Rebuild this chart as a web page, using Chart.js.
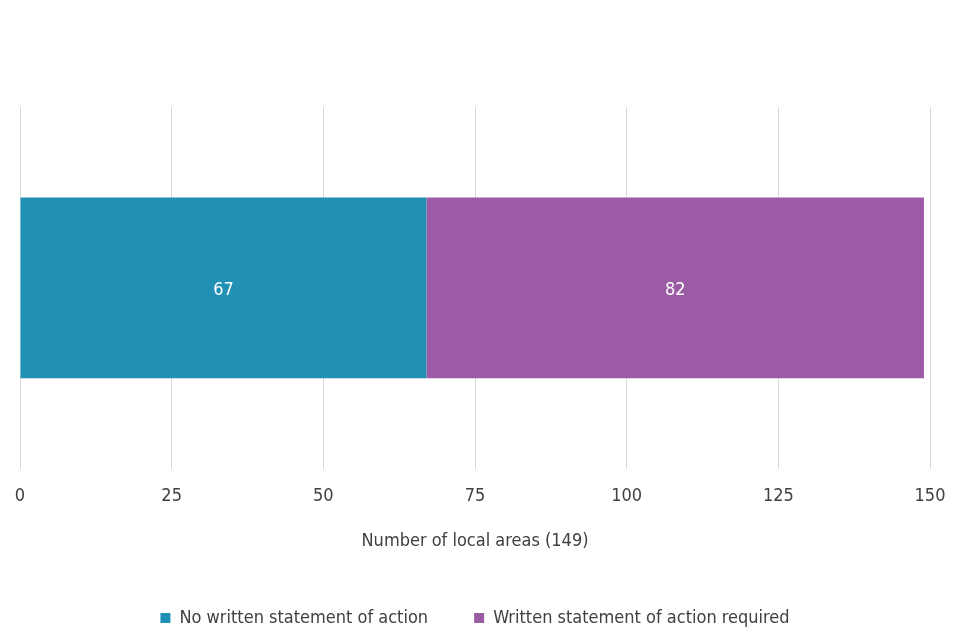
<!DOCTYPE html>
<html>
<head>
<meta charset="utf-8">
<script src="https://cdn.jsdelivr.net/npm/chart.js@4/dist/chart.umd.min.js"></script>
<style>
  html, body { margin: 0; padding: 0; background: #fff; }
  #wrap { width: 960px; height: 640px; position: relative; }
</style>
</head>
<body>
<div id="wrap"><canvas id="chart" width="960" height="640"></canvas></div>
<script>
(function () {
  'use strict';

  var categories = [''];
  var noStatement = [67];
  var statementRequired = [82];
  var seriesNames = ['No written statement of action', 'Written statement of action required'];
  var axisTitle = 'Number of local areas (149)';
  var xMax = 150;
  var xStep = 25;

  var FONT = "'DejaVu Sans Condensed', 'DejaVu Sans', sans-serif";
  var textColor = '#404040';
  var gridColor = '#d9d9d9';

  /* ── draw value labels in the middle of each bar ── */
  var barValues = {
    id: 'barValues',
    afterDatasetsDraw: function (chart) {
      var ctx = chart.ctx;
      ctx.save();
      ctx.font = '18px ' + FONT;
      ctx.fillStyle = '#ffffff';
      ctx.textAlign = 'center';
      ctx.textBaseline = 'middle';
      chart.data.datasets.forEach(function (ds, i) {
        chart.getDatasetMeta(i).data.forEach(function (bar, j) {
          var p = bar.getProps(['x', 'y', 'base'], true);
          ctx.fillText(String(ds.data[j]), (p.x + p.base) / 2, p.y + 2);
        });
      });
      ctx.restore();
    }
  };

  Chart.defaults.font.family = FONT;
  Chart.defaults.font.size = 18;
  Chart.defaults.color = textColor;

  new Chart(document.getElementById('chart'), {
    type: 'bar',
    data: {
      labels: categories,
      datasets: [
        {
          label: seriesNames[0],
          data: noStatement,
          backgroundColor: '#2091b5',
          barPercentage: 1,
          categoryPercentage: 0.5
        },
        {
          label: seriesNames[1],
          data: statementRequired,
          backgroundColor: '#9b5ba5',
          barPercentage: 1,
          categoryPercentage: 0.5
        }
      ]
    },
    options: {
      indexAxis: 'y',
      responsive: false,
      animation: false,
      layout: { padding: { top: 107, left: 20, right: 30, bottom: 3 } },
      plugins: {
        tooltip: { enabled: false },
        legend: {
          position: 'bottom',
          labels: {
            boxWidth: 10,
            boxHeight: 10,
            padding: 46,
            color: textColor,
            font: { size: 18 }
          }
        }
      },
      scales: {
        x: {
          stacked: true,
          min: 0,
          max: xMax,
          afterFit: function (scale) {
            scale.paddingLeft = 0;
            scale.paddingRight = 0;
          },
          ticks: { stepSize: xStep, padding: 17, color: textColor },
          grid: { color: gridColor, drawTicks: false },
          border: { display: false },
          title: {
            display: true,
            text: axisTitle,
            color: textColor,
            font: { size: 18 },
            padding: { top: 6, bottom: 11 }
          }
        },
        y: {
          stacked: true,
          display: false
        }
      }
    },
    plugins: [barValues]
  });
})();
</script>
</body>
</html>
